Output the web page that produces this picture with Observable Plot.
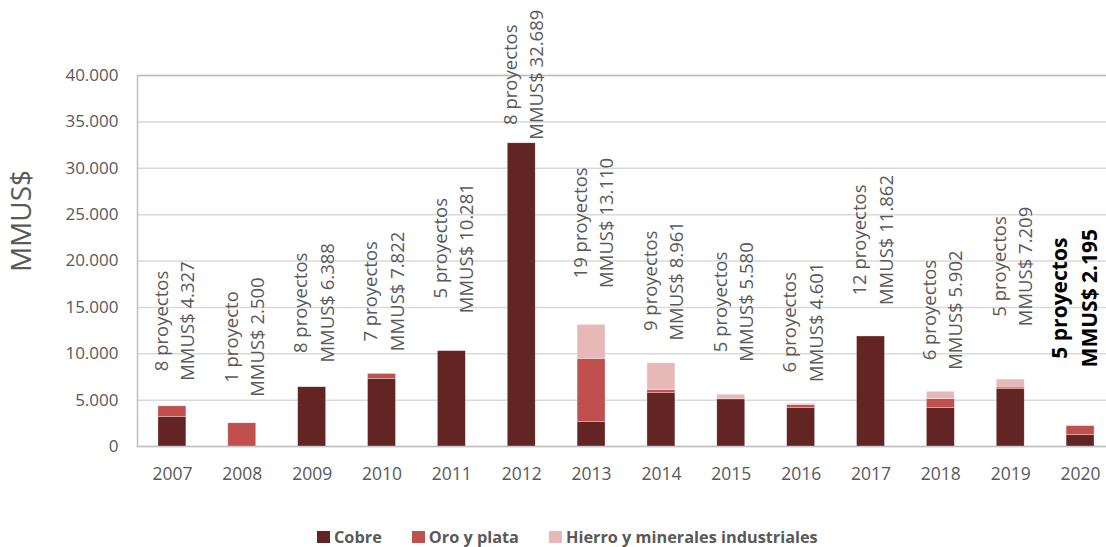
<!DOCTYPE html>
<html><head><meta charset="utf-8">
<script src="https://cdn.jsdelivr.net/npm/d3@7"></script>
<script src="https://cdn.jsdelivr.net/npm/@observablehq/plot@0.6"></script>
<style>
body{margin:0;background:#fff;font-family:"Open Sans",sans-serif;}
#wrap{width:1106px;height:547px;overflow:hidden;position:relative;}
#wrap svg{display:block;max-width:none !important;width:1115px;height:510px;}
#legend{display:flex;align-items:center;margin-left:317px;padding-top:17px;font-weight:bold;font-size:16.3px;color:#595959;line-height:20px;}
.item{display:flex;align-items:center;margin-right:30px;}
.sw{width:13px;height:12px;margin-right:4px;}
</style></head><body><div id="wrap"></div>
<script>
const years = ["2007","2008","2009","2010","2011","2012","2013","2014","2015","2016","2017","2018","2019","2020"];
const series = ["Cobre","Oro y plata","Hierro y minerales industriales"];
const cobre  = [3200, 0, 6388, 7300, 10281, 32689, 2620, 5750, 5080, 4130, 11862, 4130, 6180, 1220];
const oro    = [1127, 2500, 0, 522, 0, 0, 6830, 320, 0, 320, 0, 970, 180, 975];
const hierro = [0, 0, 0, 0, 0, 0, 3660, 2891, 500, 151, 0, 802, 849, 0];
const totals = [4327, 2500, 6388, 7822, 10281, 32689, 13110, 8961, 5580, 4601, 11862, 5902, 7209, 2195];
const proyectos = [8, 1, 8, 7, 5, 8, 19, 9, 5, 6, 12, 6, 5, 5];
const yTicks = [0, 5000, 10000, 15000, 20000, 25000, 30000, 35000, 40000];

// layout: how far above each bar the centre of its label sits (MMUS$ units)
const labelLift = [9200, 9300, 9100, 8900, 11100, 7400, 11000, 8900, 10000, 8800, 10400, 8800, 12200, 13800];
const colors = ["#632523", "#c0504d", "#e6b9b8"];
const textColor = "#595959";

const fmt = d => d3.format(",")(d).replace(/,/g, ".");

const bars = [];
years.forEach((y, i) => {
  [cobre, oro, hierro].forEach((arr, k) => bars.push({year: y, type: series[k], value: arr[i]}));
});
const labels = years.map((y, i) => ({
  year: y,
  pos: totals[i] + labelLift[i],
  text: `${proyectos[i]} ${proyectos[i] === 1 ? "proyecto" : "proyectos"}\nMMUS$ ${fmt(totals[i])}`,
  last: i === years.length - 1
}));

const chart = Plot.plot({
  width: 1115,
  height: 510,
  marginLeft: 137,
  marginRight: 0,
  marginTop: 75,
  marginBottom: 64,
  style: {fontFamily: "Open Sans, sans-serif", color: textColor, background: "white"},
  x: {domain: years, paddingInner: 0.6, paddingOuter: 0.3, round: false, label: null},
  y: {domain: [0, 40000], label: null},
  color: {domain: series, range: colors},
  marks: [
    Plot.gridY(yTicks, {stroke: "#d9d9d9", strokeOpacity: 1, strokeWidth: 1.5}),
    Plot.frame({stroke: "#bfbfbf", strokeWidth: 1.5}),
    Plot.barY(bars, {x: "year", y: "value", fill: "type", stroke: "white", strokeWidth: 0.5, strokeOpacity: 0.6}),
    Plot.axisY({ticks: yTicks, tickSize: 0, tickPadding: 19, tickFormat: d => d === 0 ? "0" : fmt(d), fontSize: 17, fill: textColor, label: null}),
    Plot.axisX({tickSize: 0, tickPadding: 21, fontSize: 17.5, fill: textColor, label: null}),
    Plot.text(["MMUS$"], {frameAnchor: "left", dx: -115, dy: -40, rotate: -90, fontSize: 28, fill: textColor, textAnchor: "middle", lineAnchor: "middle"}),
    Plot.text(labels.filter(d => !d.last), {x: "year", y: "pos", text: "text", rotate: -90, fontSize: 18.5, lineHeight: 1.42, fill: textColor, textAnchor: "middle", lineAnchor: "middle"}),
    Plot.text(labels.filter(d => d.last), {x: "year", y: "pos", text: "text", rotate: -90, fontSize: 21, fontWeight: "bold", lineHeight: 1.4, fill: "black", textAnchor: "middle", lineAnchor: "middle", dx: -8})
  ]
});

const wrap = document.getElementById("wrap");
wrap.appendChild(chart);

const legend = d3.select(wrap).append("div").attr("id", "legend");
series.forEach((s, k) => {
  const it = legend.append("div").attr("class", "item");
  it.append("div").attr("class", "sw").style("background", colors[k]);
  it.append("span").text(s);
});
</script>
</body></html>
